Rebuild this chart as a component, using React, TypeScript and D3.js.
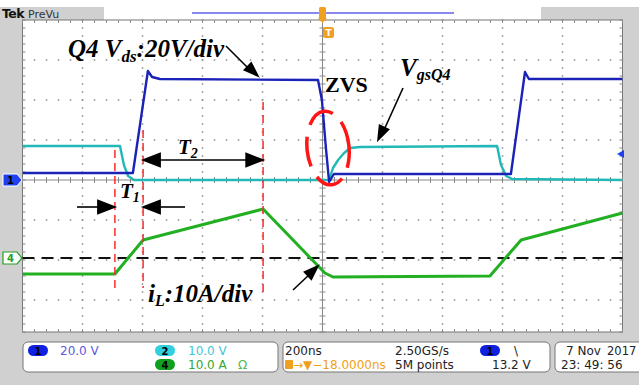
import React from "react";
import * as d3 from "d3";

// time axis in ns (200 ns/div, 10 div)
const ch1Time = [-1000, -632, -582, -568, -542, -15, -2, 12, 22, 38, 628, 675, 688, 1000];
const ch1Volts = [3.5, 3.5, 54.5, 51.5, 50.5, 50, 40, 15, -1, 3, 3, 54, 50.5, 50.5];

const ch2Time = [-1000, -675, -662, -648, -628, 22, 35, 52, 72, 92, 125, 582, 595, 612, 632, 1000];
const ch2Volts = [8.5, 8.5, 3.75, 1, 0, 0, 3, 5, 6.75, 8, 8.25, 8.5, 3.75, 1, 0.25, 0];

const ch4Time = [-1000, -692, -598, -198, 8, 35, 558, 662, 1000];
const ch4Amps = [-4, -4, 4.5, 12.25, -3.75, -4.75, -4.5, 4.5, 11.25];

// cursor times for the red markers
const markerTimes = [-692, -598, -198];

const W = 639;
const H = 385;
const left = 22.5;
const right = 622.5;
const top = 20;
const bottom = 332;

export default function App() {
  const x = d3.scaleLinear().domain([-1000, 1000]).range([left, right]);
  const div = d3.scaleLinear().domain([4, -4]).range([20, 340]);
  const y1 = (v: number) => div(v / 20);
  const y2 = (v: number) => div(v / 10);
  const ch4Offset = -1.95;
  const y4 = (a: number) => div(a / 10 + ch4Offset);

  const line = d3.line<[number, number]>().x(d => d[0]).y(d => d[1]);
  const p1 = line(ch1Time.map((t, i) => [x(t), y1(ch1Volts[i])]));
  const p2 = line(ch2Time.map((t, i) => [x(t), y2(ch2Volts[i])]));
  const p4 = line(ch4Time.map((t, i) => [x(t), y4(ch4Amps[i])]));

  const cx = x(0);
  const cy = div(0);
  const zeroY = y4(0);

  const vLines = d3.range(1, 10).map(k => left + k * 60).filter(v => Math.abs(v - cx) > 1);
  const hLines = d3.range(1, 8).map(k => top + k * 40).filter(v => Math.abs(v - cy) > 1);
  const minorX = d3.range(0, 51).map(k => left + k * 12);
  const minorY = d3.range(0, 40).map(k => top + k * 8).filter(v => v <= bottom);

  const dots: [number, number][] = [];
  hLines.forEach(yy => minorX.forEach(xx => dots.push([xx, yy])));
  vLines.forEach(xx => minorY.forEach(yy => dots.push([xx, yy])));

  const serif = "'Liberation Serif', 'Times New Roman', serif";
  const sans = "'DejaVu Sans', 'Liberation Sans', sans-serif";

  const xa = x(markerTimes[0]);
  const xb = x(markerTimes[1]);
  const xc = x(markerTimes[2]);

  const head = (tx: number, ty: number, dir: number, len = 17, hw = 6.5) =>
    `${tx},${ty} ${tx - dir * len},${ty - hw} ${tx - dir * len},${ty + hw}`;

  const slantHead = (x0: number, y0: number, x1: number, y1: number, len = 14, hw = 5) => {
    const a = Math.atan2(y1 - y0, x1 - x0);
    const bx = x1 - len * Math.cos(a);
    const by = y1 - len * Math.sin(a);
    const nx = -Math.sin(a) * hw;
    const ny = Math.cos(a) * hw;
    return `${x1},${y1} ${bx + nx},${by + ny} ${bx - nx},${by - ny}`;
  };

  return (
    <svg width={W} height={H} style={{ position: "absolute", left: 0, top: 0 }}>
      <rect x={0} y={0} width={W} height={H} fill="#d0d0d0" />
      <rect x={0} y={0} width={W} height={7} fill="#ffffff" />
      <rect x={104} y={7} width={437} height={13} fill="#ffffff" />
      <line x1={192} x2={454} y1={13} y2={13} stroke="#8888ee" strokeWidth={2} />
      <text x={2} y={18} fontFamily={sans} fontWeight="bold" fontSize={12.5} letterSpacing={-0.6} fill="#111">Tek</text>
      <text x={28} y={18} fontFamily={sans} fontSize={11} fill="#333">PreVu</text>

      {/* plot area */}
      <rect x={left} y={top} width={right - left} height={bottom - top} fill="#ffffff" stroke="#777" strokeWidth={1} />
      <g fill="#8a8a8a">
        {dots.map((d, i) => (
          <rect key={"d" + i} x={d[0] - 0.75} y={d[1] - 0.75} width={1.5} height={1.5} />
        ))}
      </g>
      <g stroke="#888" strokeWidth={1}>
        <line x1={left} x2={right} y1={cy} y2={cy} />
        <line x1={cx} x2={cx} y1={top} y2={bottom} />
        {minorX.map(v => (
          <g key={"mx" + v}>
            <line x1={v} x2={v} y1={cy - 3} y2={cy + 3} />
            <line x1={v} x2={v} y1={top} y2={top + 3} />
            <line x1={v} x2={v} y1={bottom - 3} y2={bottom} />
          </g>
        ))}
        {minorY.map(v => (
          <g key={"my" + v}>
            <line x1={cx - 3} x2={cx + 3} y1={v} y2={v} />
            <line x1={left} x2={left + 3} y1={v} y2={v} />
            <line x1={right - 3} x2={right} y1={v} y2={v} />
          </g>
        ))}
      </g>

      {/* ch4 zero reference */}
      <line x1={left} x2={right} y1={zeroY} y2={zeroY} stroke="#111" strokeWidth={1.8} strokeDasharray="12,7" />

      <defs>
        <clipPath id="plot">
          <rect x={left} y={top} width={right - left} height={bottom - top} />
        </clipPath>
      </defs>
      <g clipPath="url(#plot)" fill="none" strokeLinejoin="round">
        <path d={p4 || ""} stroke="#22b022" strokeWidth={3} />
        <path d={p2 || ""} stroke="#22b8b8" strokeWidth={2.4} />
        <path d={p1 || ""} stroke="#1a22b8" strokeWidth={2.4} />
      </g>

      {/* red cursors */}
      <g stroke="#ff2a2a" strokeWidth={1.5} strokeDasharray="8,5">
        <line x1={xa} x2={xa} y1={150} y2={290} />
        <line x1={xb} x2={xb} y1={130} y2={288} />
        <line x1={xc} x2={xc} y1={102} y2={292} />
      </g>
      <ellipse cx={328} cy={148} rx={21} ry={37} fill="none" stroke="#ff1515" strokeWidth={3.5} strokeDasharray="30,12" strokeDashoffset={8} transform="rotate(-6 328 148)" />

      {/* arrows */}
      <g fill="#000" stroke="#000" strokeWidth={1.6}>
        <line x1={xb + 14} x2={xc - 14} y1={160} y2={160} />
        <polygon points={head(xb, 160, -1)} />
        <polygon points={head(xc, 160, 1)} />
        <line x1={77} x2={xa - 14} y1={207} y2={207} />
        <polygon points={head(xa, 207, 1)} />
        <line x1={185} x2={xb + 14} y1={207} y2={207} />
        <polygon points={head(xb, 207, -1)} />
        <line x1={226} y1={46} x2={250} y2={70} />
        <polygon points={slantHead(226, 46, 258, 76)} />
        <line x1={403} y1={88} x2={384} y2={130} />
        <polygon points={slantHead(403, 88, 378, 140)} />
        <line x1={293} y1={290} x2={310} y2={274} />
        <polygon points={slantHead(293, 290, 318, 266)} />
      </g>

      <g fontFamily={serif} fontWeight="bold" fontStyle="italic" fill="#000">
        <text x={68} y={57} fontSize={25}>
          Q4 V<tspan fontSize={17} dy={5}>ds</tspan><tspan dy={-5}>:20V/div</tspan>
        </text>
        <text x={400} y={76} fontSize={25}>
          V<tspan fontSize={16} dy={4}>gsQ4</tspan>
        </text>
        <text x={178} y={154} fontSize={21}>
          T<tspan fontSize={14} dy={4}>2</tspan>
        </text>
        <text x={120} y={198} fontSize={21}>
          T<tspan fontSize={14} dy={4}>1</tspan>
        </text>
        <text x={148} y={302} fontSize={25}>
          i<tspan fontSize={16} dy={4}>L</tspan><tspan dy={-4}>:10A/div</tspan>
        </text>
      </g>
      <text x={325} y={92} fontFamily={serif} fontWeight="bold" fontSize={22} fill="#000">ZVS</text>

      {/* trigger markers */}
      <rect x={319} y={7} width={7} height={12} rx={1.5} fill="#f0a020" />
      <polygon points="318,18 327,18 322.5,23" fill="#f0a020" />
      <rect x={323} y={27} width={11} height={11} rx={2.5} fill="#f0a020" />
      <text x={328.5} y={36} textAnchor="middle" fontFamily={sans} fontWeight="bold" fontSize={9} fill="#fff">T</text>

      {/* channel markers */}
      <polygon points={`3,${cy - 6} 17,${cy - 6} 22,${cy} 17,${cy + 6} 3,${cy + 6}`} fill="#2040f0" stroke="#fff" strokeWidth={1} />
      <text x={10.5} y={cy + 4} textAnchor="middle" fontFamily={sans} fontWeight="bold" fontSize={10} fill="#000">1</text>
      <polygon points={`3,${zeroY - 6} 17,${zeroY - 6} 22,${zeroY} 17,${zeroY + 6} 3,${zeroY + 6}`} fill="#fff" stroke="#22a022" strokeWidth={1.2} />
      <text x={10.5} y={zeroY + 4} textAnchor="middle" fontFamily={sans} fontWeight="bold" fontSize={10} fill="#22a022">4</text>
      <polygon points="617,154 624,150 624,158" fill="#2040f0" />

      {/* status panel */}
      <g fill="#fff" stroke="#777" strokeWidth={1}>
        <rect x={23} y={342} width={255} height={30} rx={5} />
        <rect x={283} y={342} width={267} height={30} rx={5} />
        <rect x={555} y={342} width={95} height={30} rx={5} />
      </g>
      <g fontFamily={sans} fontSize={12}>
        <rect x={28} y={345} width={20} height={11} rx={5.5} fill="#1020e0" />
        <text x={38} y={355} textAnchor="middle" fill="#000" fontSize={10} fontWeight="bold">1</text>
        <text x={60} y={355} fill="#5a5ae0">20.0 V</text>
        <rect x={155} y={345} width={20} height={11} rx={5.5} fill="#30d0e0" />
        <text x={165} y={355} textAnchor="middle" fill="#000" fontSize={10} fontWeight="bold">2</text>
        <text x={188} y={355} fill="#40c8d8">10.0 V</text>
        <rect x={155} y={359} width={20} height={11} rx={5.5} fill="#10a020" />
        <text x={165} y={369} textAnchor="middle" fill="#000" fontSize={10} fontWeight="bold">4</text>
        <text x={188} y={369} fill="#30a830">10.0 A</text>
        <text x={238} y={369} fill="#50b850">Ω</text>

        <text x={285} y={355} fill="#222">200ns</text>
        <rect x={285} y={360} width={8} height={9} rx={1} fill="#f0a020" />
        <text x={293} y={369} fill="#f0a020">→▼−18.0000ns</text>
        <text x={395} y={355} fill="#222">2.50GS/s</text>
        <text x={395} y={369} fill="#222">5M points</text>
        <rect x={480} y={345} width={20} height={11} rx={5.5} fill="#1020e0" />
        <text x={490} y={355} textAnchor="middle" fill="#000" fontSize={10} fontWeight="bold">1</text>
        <text x={514} y={355} fill="#222">\</text>
        <text x={492} y={369} fill="#222">13.2 V</text>

        <text x={566} y={355} fill="#222">7 Nov</text>
        <text x={607} y={355} fill="#222" fontSize={11.5}>2017</text>
        <text x={561} y={369} fill="#222">23: 49: 56</text>
      </g>
    </svg>
  );
}
